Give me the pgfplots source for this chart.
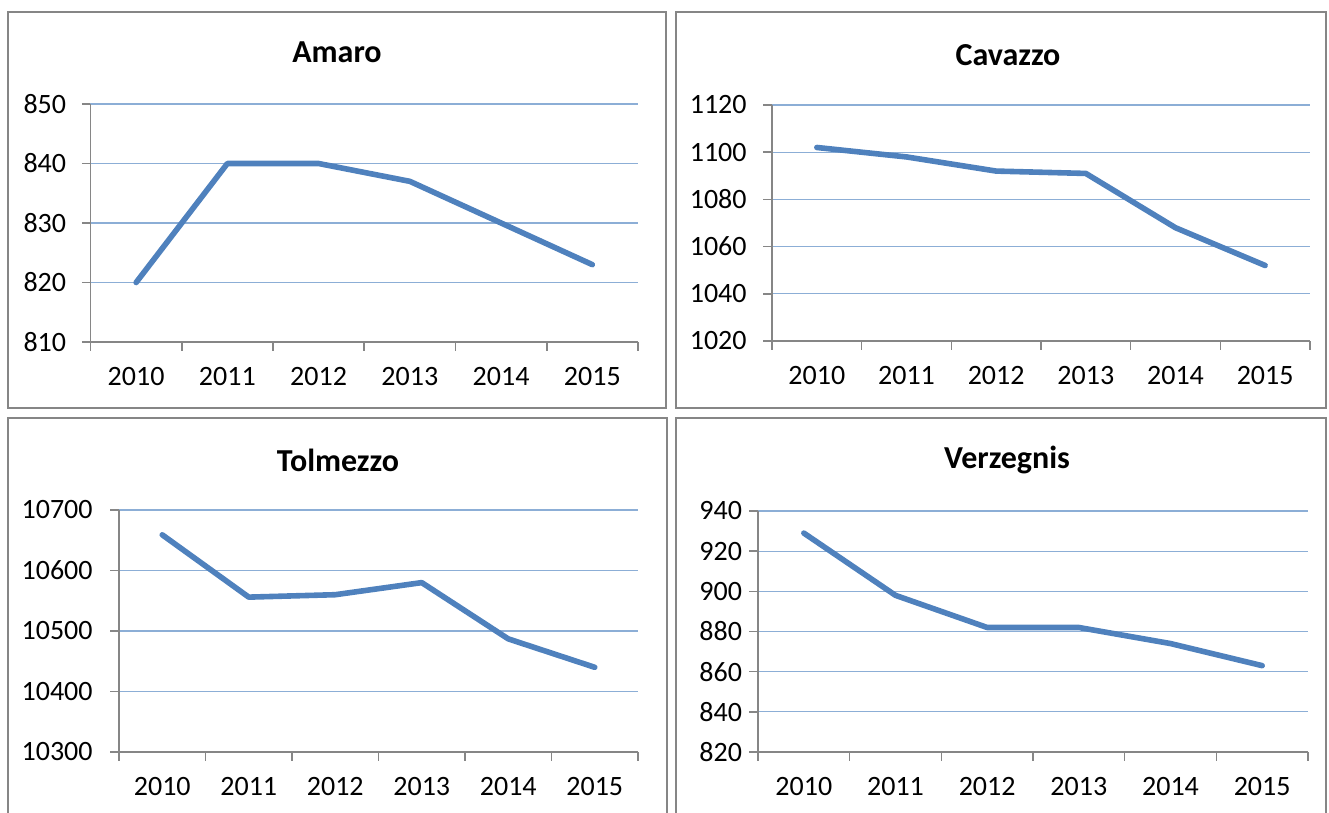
\documentclass[border=0pt]{standalone}
\usepackage{pgfplots}
\pgfplotsset{compat=1.18}
\usepackage{fontspec}
\setmainfont{Carlito}
\definecolor{ser}{RGB}{79,129,189}
\definecolor{grd}{RGB}{140,174,214}
\definecolor{axg}{RGB}{134,134,134}
\pgfplotsset{
  panel/.style={
    scale only axis, anchor=south west,
    xmin=0, xmax=6,
    axis x line=bottom, axis y line=left,
    axis line style={-, draw=axg, line width=0.8pt},
    tick align=outside,
    major tick length=4.3pt,
    tick style={draw=axg, line width=0.8pt},
    xtick={0,...,6}, xticklabels={},
    extra x ticks={0.5,1.5,2.5,3.5,4.5,5.5},
    extra x tick labels={2010,2011,2012,2013,2014,2015},
    extra x tick style={major tick length=0pt},
    xticklabel style={anchor=base, yshift=-21.6pt, font=\fontsize{14}{17}\selectfont},
    yticklabel style={anchor=east, inner sep=0pt, font=\fontsize{14}{17}\selectfont},
    scaled y ticks=false,
    ymajorgrids, grid style={draw=grd, line width=0.6pt},
    /pgf/number format/.cd, assume math mode=true, set thousands separator={},
  },
  ln/.style={draw=ser, line width=2.8pt, line join=round, line cap=round, mark=none},
}
\begin{document}
\begin{tikzpicture}
\useasboundingbox (0pt,0pt) rectangle (664.5pt,-406.5pt);
\clip (0pt,0pt) rectangle (664.5pt,-406.5pt);
% panel borders
\draw[axg, line width=0.8pt] (4pt,-6pt) rectangle (333pt,-204pt);
\draw[axg, line width=0.8pt] (338pt,-6pt) rectangle (663pt,-204pt);
\draw[axg, line width=0.8pt] (4pt,-209pt) rectangle (333.5pt,-412pt);
\draw[axg, line width=0.8pt] (338pt,-209pt) rectangle (663pt,-412pt);
% titles
\node[font=\bfseries\fontsize{16}{19}\selectfont] at (168.5pt,-26pt) {Amaro};
\node[font=\bfseries\fontsize{16}{19}\selectfont] at (504pt,-27.5pt) {Cavazzo};
\node[font=\bfseries\fontsize{16}{19}\selectfont] at (169pt,-230pt) {Tolmezzo};
\node[font=\bfseries\fontsize{16}{19}\selectfont] at (503.5pt,-230pt) {Verzegnis};

\begin{axis}[panel, at={(45.25pt,-171pt)}, width=273.75pt, height=119pt,
  ymin=810, ymax=850, ytick={810,820,...,850}, yticklabel style={xshift=-7.7pt}]
\addplot[ln] coordinates {(0.5,820) (1.5,840) (2.5,840) (3.5,837) (4.5,830) (5.5,823)};
\end{axis}

\begin{axis}[panel, at={(386pt,-170.5pt)}, width=269pt, height=118pt,
  ymin=1020, ymax=1120, ytick={1020,1040,...,1120}, yticklabel style={xshift=-8.2pt}]
\addplot[ln] coordinates {(0.5,1102) (1.5,1098) (2.5,1092) (3.5,1091) (4.5,1068) (5.5,1052)};
\end{axis}

\begin{axis}[panel, at={(59.5pt,-376pt)}, width=259.5pt, height=121pt,
  ymin=10300, ymax=10700, ytick={10300,10400,...,10700}, yticklabel style={xshift=-8.7pt}]
\addplot[ln] coordinates {(0.5,10659) (1.5,10556) (2.5,10560) (3.5,10580) (4.5,10487) (5.5,10440)};
\end{axis}

\begin{axis}[panel, at={(379pt,-376pt)}, width=275pt, height=120.5pt,
  ymin=820, ymax=940, ytick={820,840,...,940}, yticklabel style={xshift=-3.5pt}]
\addplot[ln] coordinates {(0.5,929) (1.5,898) (2.5,882) (3.5,882) (4.5,874) (5.5,863)};
\end{axis}
\end{tikzpicture}
\end{document}
